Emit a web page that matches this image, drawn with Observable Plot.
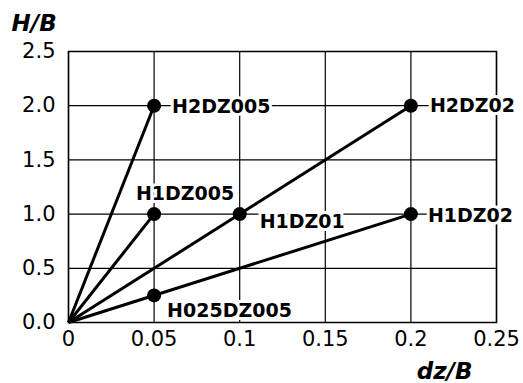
<!DOCTYPE html>
<html>
<head>
<meta charset="utf-8">
<script src="https://cdn.jsdelivr.net/npm/d3@7"></script>
<script src="https://cdn.jsdelivr.net/npm/@observablehq/plot@0.6"></script>
<style>
  html, body { margin: 0; padding: 0; background: #fff; }
  #chart { width: 523px; height: 383px; }
</style>
</head>
<body>
<div id="chart"></div>
<script>
// --- data ---
const caseNames = ["H2DZ005", "H2DZ02", "H1DZ005", "H1DZ01", "H1DZ02", "H025DZ005"];
const dzB = [0.05, 0.2, 0.05, 0.1, 0.2, 0.05];
const HB = [2.0, 2.0, 1.0, 1.0, 1.0, 0.25];
const rayEnds = ["H2DZ005", "H1DZ005", "H2DZ02", "H1DZ02"];
const xTicks = [0, 0.05, 0.1, 0.15, 0.2, 0.25];
const yTicks = [0, 0.5, 1.0, 1.5, 2.0, 2.5];
const xTickLabels = ["0", "0.05", "0.1", "0.15", "0.2", "0.25"];
const yTickLabels = ["0.0", "0.5", "1.0", "1.5", "2.0", "2.5"];
const xTitle = "dz/B";
const yTitle = "H/B";

const points = caseNames.map((name, i) => ({name, x: dzB[i], y: HB[i]}));
const rays = points.filter(p => rayEnds.includes(p.name));

// label placement (style only)
const place = {
  H2DZ005:   {anchor: "start",  dx: 18, dy: 1},
  H2DZ02:    {anchor: "start",  dx: 19, dy: 0},
  H1DZ005:   {anchor: "middle", dx: 31, dy: -20},
  H1DZ01:    {anchor: "start",  dx: 20, dy: 8},
  H1DZ02:    {anchor: "start",  dx: 17, dy: 2},
  H025DZ005: {anchor: "start",  dx: 13, dy: 16}
};

const labelMarks = points.map(p => Plot.text([p], {
  x: "x", y: "y", text: "name",
  textAnchor: place[p.name].anchor,
  dx: place[p.name].dx, dy: place[p.name].dy,
  fill: "black", stroke: "white", strokeWidth: 6, paintOrder: "stroke",
  fontWeight: "bold", fontSize: 19
}));

const chart = Plot.plot({
  width: 523,
  height: 383,
  marginTop: 51,
  marginLeft: 68,
  marginRight: 27,
  marginBottom: 61,
  style: {fontFamily: "DejaVu Sans, sans-serif", fontSize: "21px", color: "black", background: "white"},
  x: {domain: [0, 0.25], label: null},
  y: {domain: [0, 2.5], label: null},
  marks: [
    Plot.gridX(xTicks, {stroke: "black", strokeOpacity: 1, strokeWidth: 1.2}),
    Plot.gridY(yTicks, {stroke: "black", strokeOpacity: 1, strokeWidth: 1.2}),
    Plot.frame({stroke: "black", strokeWidth: 1.5}),
    Plot.axisX(xTicks, {tickSize: 0, tickPadding: 9, tickFormat: d => xTickLabels[xTicks.indexOf(d)], fontSize: 21, label: null}),
    Plot.axisY(yTicks, {tickSize: 0, tickPadding: 13, tickFormat: d => yTickLabels[yTicks.indexOf(d)], fontSize: 21, label: null}),
    Plot.link(rays, {x1: () => 0, y1: () => 0, x2: "x", y2: "y", stroke: "black", strokeWidth: 3}),
    Plot.dot(points, {x: "x", y: "y", r: 7, fill: "black"}),
    ...labelMarks,
    Plot.text([yTitle], {frameAnchor: "top-left", dx: -57, dy: -37, text: d => d, textAnchor: "start",
      fontWeight: "bold", fontStyle: "italic", fontSize: 23, fill: "black"}),
    Plot.text([xTitle], {frameAnchor: "bottom-right", dx: -24, dy: 56, text: d => d, textAnchor: "end",
      fontWeight: "bold", fontStyle: "italic", fontSize: 23, fill: "black"})
  ]
});
document.getElementById("chart").appendChild(chart);
</script>
</body>
</html>
